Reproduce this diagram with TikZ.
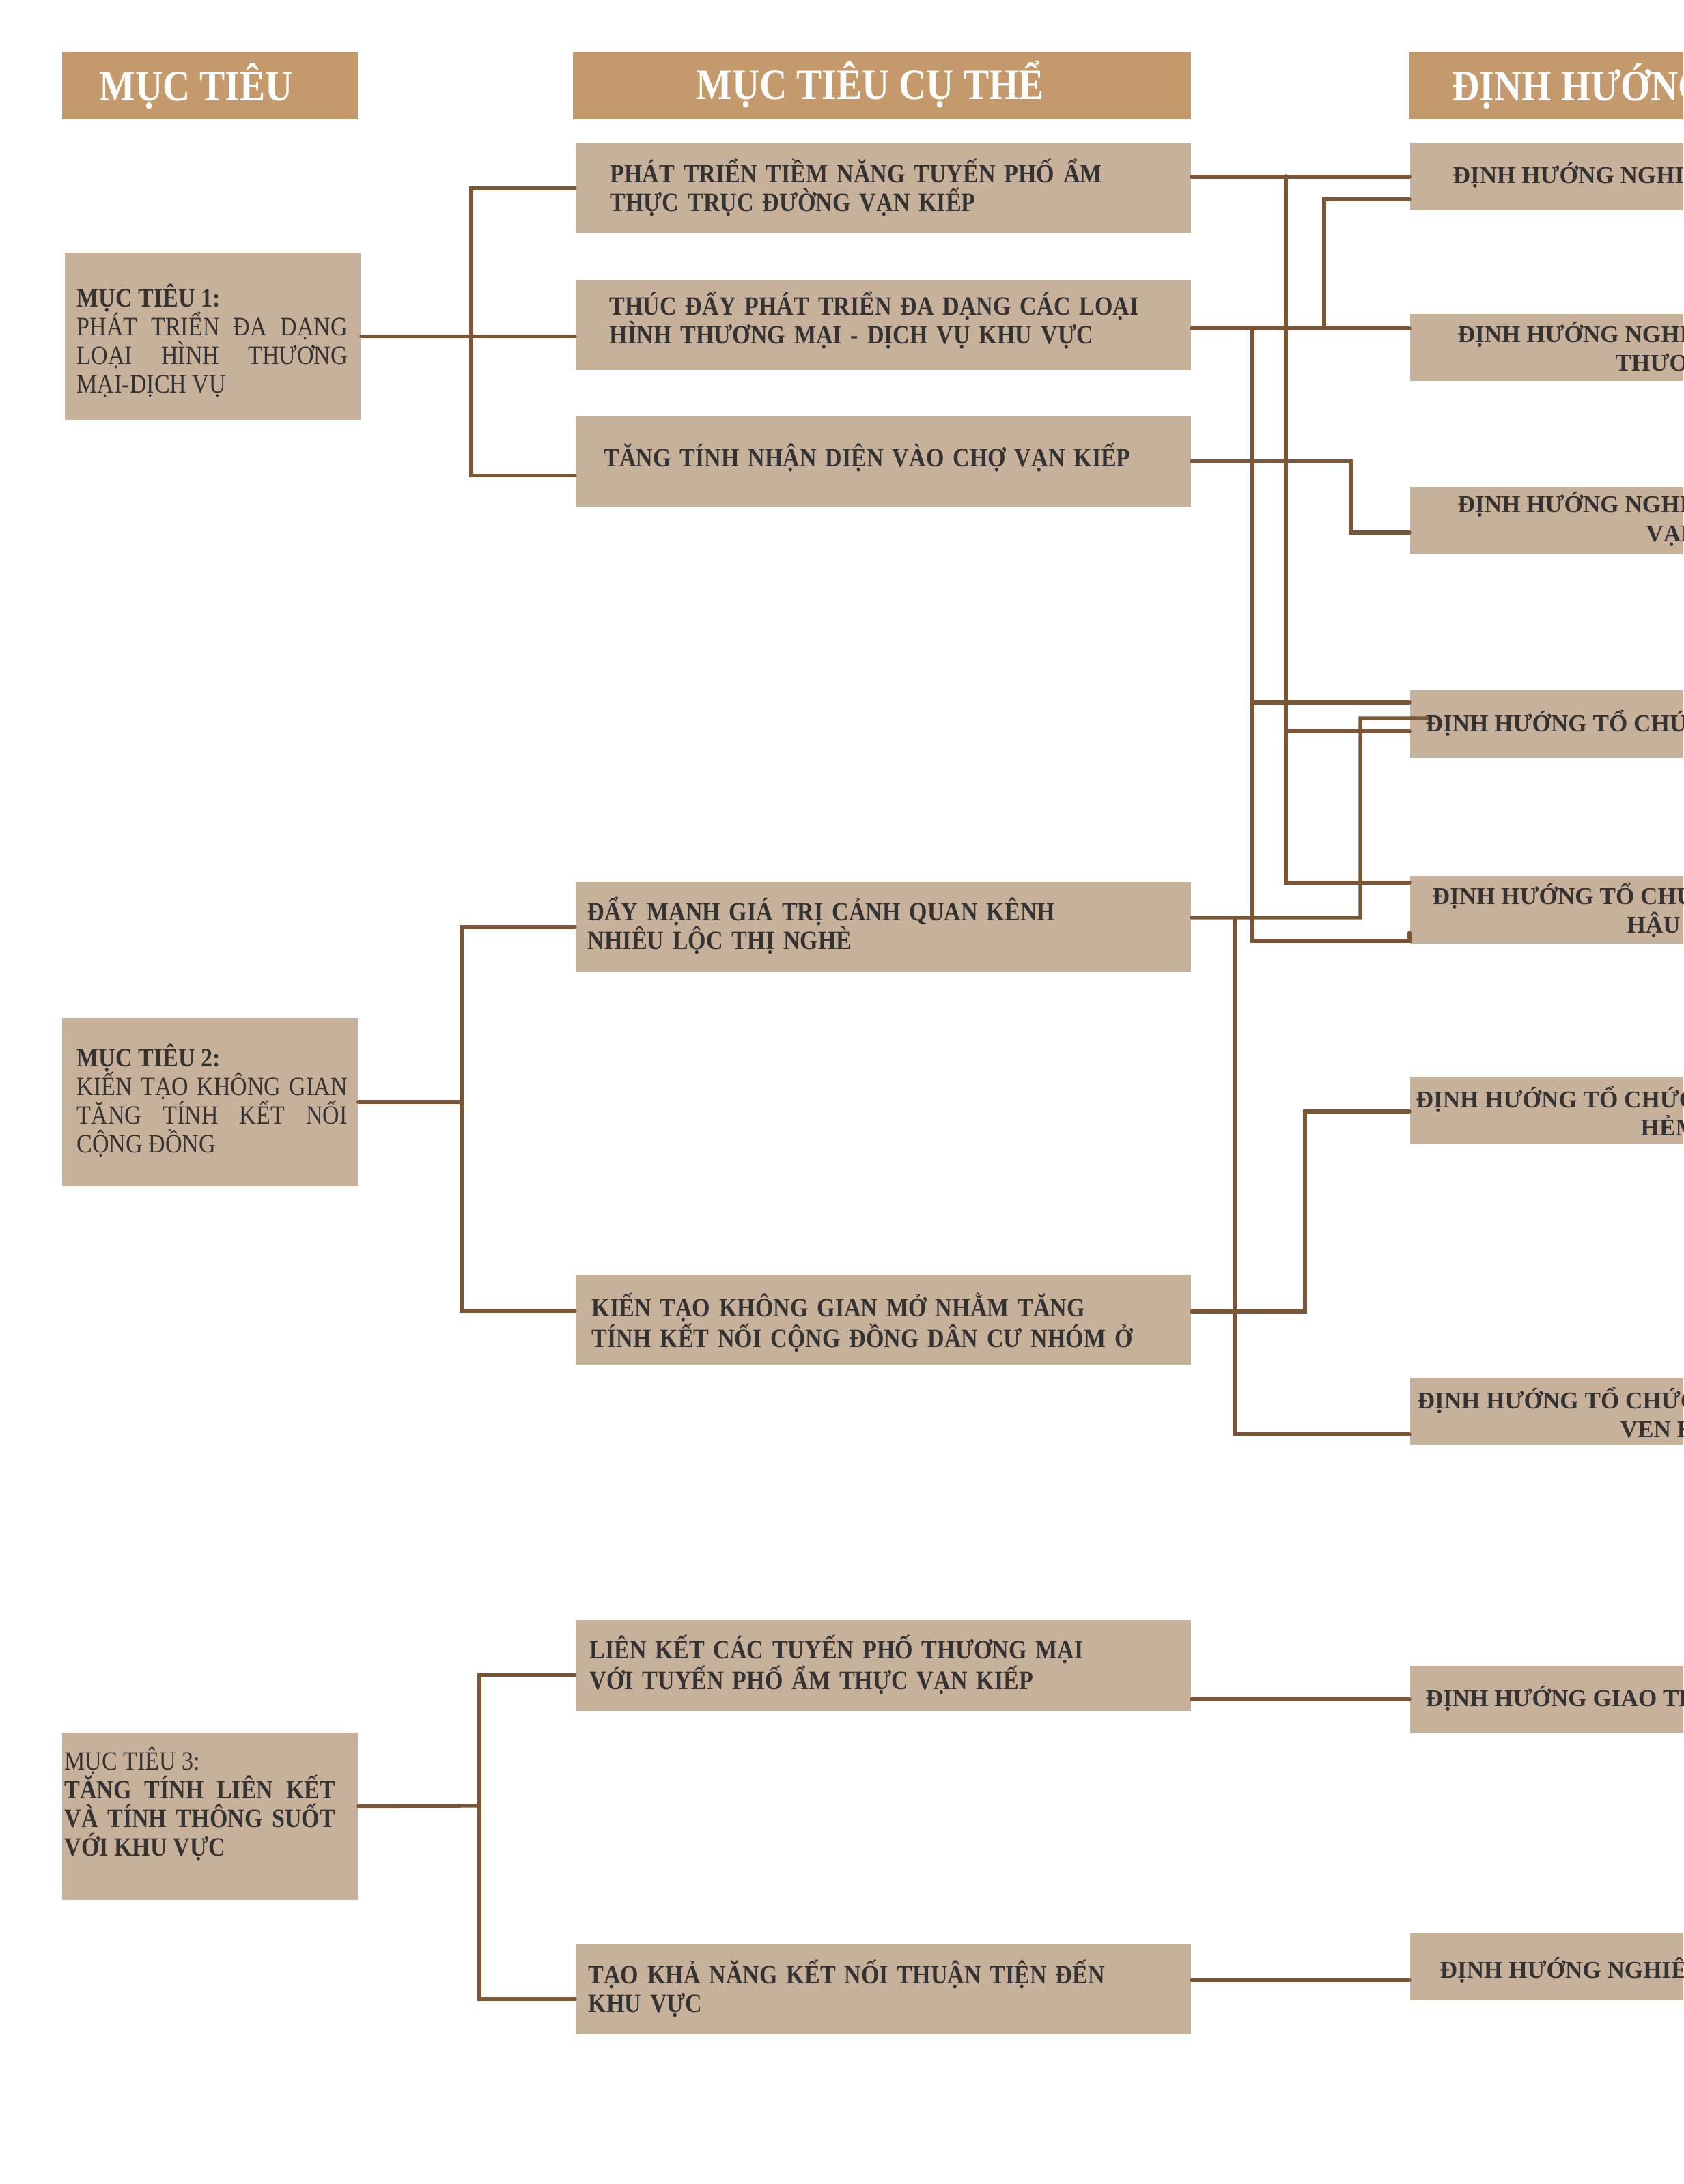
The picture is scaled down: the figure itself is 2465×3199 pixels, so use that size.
\documentclass[tikz,border=0pt]{standalone}
\usepackage{fontspec}
\setmainfont{Liberation Serif}
\newfontfamily\condfont{Liberation Serif}[FakeStretch=0.88]
\usepackage{tikz}
\usetikzlibrary{positioning, calc}
\definecolor{mhead}{HTML}{C49A6C}
\definecolor{mbox}{HTML}{C7B19A}
\definecolor{mline}{HTML}{7B5534}
\definecolor{mtext}{HTML}{333333}
\hyphenpenalty=10000
\exhyphenpenalty=10000
\tikzset{
  headbox/.style={fill=mhead, minimum height=0.99cm, inner sep=0pt},
  goalbox/.style={fill=mbox, minimum width=4.33cm, minimum height=2.45cm, inner sep=0pt},
  aimbox/.style={fill=mbox, minimum width=9.01cm, minimum height=1.32cm, inner sep=0pt},
  dirbox/.style={fill=mbox, minimum width=6.35cm, minimum height=0.98cm, inner sep=0pt},
  headtxt/.style={anchor=base west, inner sep=0pt, text=white,
                  font=\condfont\bfseries\fontsize{18}{20}\selectfont},
  goaltxt/.style={anchor=base west, inner sep=0pt, text=mtext, align=justify, text width=3.96cm,
                  font=\condfont\fontsize{11}{11.95}\selectfont},
  aimtxt/.style={anchor=base west, inner sep=0pt, text=mtext, align=left, text width=8.6cm,
                 font=\condfont\bfseries\fontsize{11}{11.95}\selectfont},
  dirtxt/.style={anchor=base west, inner sep=0pt, text=mtext,
                 font=\bfseries\fontsize{10}{12}\selectfont},
  link/.style={draw=mline, line width=1.5pt, line cap=round},
}

\begin{document}
\begin{tikzpicture}[x=0.01cm, y=-0.01cm]
  \useasboundingbox (0,0) rectangle (2465,3199);
  \fill[white] (0,0) rectangle (2465,3199);
  \clip (0,0) rectangle (2465,3199);

  %% Column headers
  \node[headbox, minimum width=4.33cm] (h1) at (307.5,125.5) {};
  \node[headbox, minimum width=9.05cm] (h2) at (1291.5,125.5) {};
  \node[headbox, minimum width=6.37cm] (h3) at (2381.5,125.5) {};

  %% Goals
  \node[goalbox] (mt1) at (311.5,492.5) {};
  \node[goalbox] (mt2) at (307.5,1614) {};
  \node[goalbox] (mt3) at (307.5,2660.5) {};

  %% Specific aims
  \node[aimbox] (b1) at (1293.5,276) {};
  \node[aimbox] (b2) at (1293.5,476) {};
  \node[aimbox] (b3) at (1293.5,675.5) {};
  \node[aimbox] (b4) at (1293.5,1358) {};
  \node[aimbox] (b5) at (1293.5,1933) {};
  \node[aimbox] (b6) at (1293.5,2439.5) {};
  \node[aimbox] (b7) at (1293.5,2914) {};

  %% Directions (cut at the right edge)
  \node[dirbox] (r1) at (2382.5,259) {};
  \node[dirbox] (r2) at (2382.5,509) {};
  \node[dirbox] (r3) at (2382.5,763) {};
  \node[dirbox] (r4) at (2382.5,1060.5) {};
  \node[dirbox] (r5) at (2382.5,1332.5) {};
  \node[dirbox] (r6) at (2382.5,1627) {};
  \node[dirbox] (r7) at (2382.5,2067) {};
  \node[dirbox] (r8) at (2382.5,2489) {};
  \node[dirbox] (r9) at (2382.5,2881) {};

  %% Goal -> aim links
  \coordinate (j1) at (690,493);
  \coordinate (j2) at (676,1611);
  \coordinate (j3) at (702,2645);
  \draw[link] (mt1.east) -- (mt1.east -| b2.west);
  \draw[link] (b1.west) -| (j1) |- ([yshift=-2.1mm]b3.west);
  \draw[link] (mt2.east) -- (mt2.east -| j2);
  \draw[link] (b4.west) -| (j2) |- ([yshift=1.3mm]b5.west);
  \draw[link] ([yshift=1.5mm]mt3.east) -- (j3);
  \draw[link] ([yshift=-1.4mm]b6.west) -| (j3) |- ([yshift=-1.4mm]b7.west);

  %% Aim -> direction links
  \coordinate (j4) at (1883,258);
  \coordinate (j5) at (1939,481);
  \coordinate (j6) at (1834,481);
  \coordinate (j7) at (1978,780);
  \coordinate (j8) at (1992,1344);
  \coordinate (j9) at (1808,1344);
  \coordinate (j10) at (1911,1628);
  \draw[link] (b1.east |- r1.west) -- (r1.west);
  \draw[link] (j4) |- ([yshift=-1.05mm]r4.west);
  \draw[link] (j4) |- ([yshift=3.95mm]r5.west);
  \draw[link] ([yshift=-0.5mm]b2.east) -- ([yshift=-0.5mm]b2.east -| r2.west);
  \draw[link] (j5) |- ([yshift=-3.3mm]r1.west);
  \draw[link] (j6) |- ([yshift=3.15mm]r4.west);
  \draw[link] (j6) |- ([yshift=-4.55mm]r5.west) -- ++(0,-12);
  \draw[link] (b3.east) -| (j7) -- (j7 -| r3.west);
  \draw[link] ([yshift=1.4mm]b4.east) -- (j8) |- ([xshift=2.5mm,yshift=0.85mm]r4.west);
  \draw[link] (j9) |- ([yshift=-3.4mm]r7.west);
  \draw[link] ([yshift=1.2mm]b5.east) -| (j10) -- (j10 -| r6.west);
  \draw[link] (b6.east |- r8.west) -- (r8.west);
  \draw[link] ([yshift=-1.9mm]b7.east |- r9.west) -- ([yshift=-1.9mm]r9.west);

  %% Header texts
  \node[headtxt] (h1t) at (145,147) {MỤC TIÊU};
  \node[headtxt] (h2t) at (1019,145) {MỤC TIÊU CỤ THỂ};
  \node[headtxt] (h3t) at (2126,147) {ĐỊNH HƯỚNG};

  %% Goal texts
  \node[goaltxt] (mt1t) at (112,449) {\textbf{MỤC TIÊU 1:}\\PHÁT TRIỂN ĐA DẠNG\linebreak LOẠI HÌNH THƯƠNG\linebreak MẠI-DỊCH VỤ};
  \node[goaltxt] (mt2t) at (112,1562) {\textbf{MỤC TIÊU 2:}\\KIẾN TẠO KHÔNG GIAN\linebreak TĂNG TÍNH KẾT NỐI\linebreak CỘNG ĐỒNG};
  \node[goaltxt] (mt3t) at (94,2592) {MỤC TIÊU 3:\\\textbf{TĂNG TÍNH LIÊN KẾT\linebreak VÀ TÍNH THÔNG SUỐT\linebreak VỚI KHU VỰC}};

  %% Aim texts
  \node[aimtxt] (b1t) at (893,267) {PHÁT TRIỂN TIỀM NĂNG TUYẾN PHỐ ẨM\\THỰC TRỤC ĐƯỜNG VẠN KIẾP};
  \node[aimtxt] (b2t) at (892,461) {THÚC ĐẨY PHÁT TRIỂN ĐA DẠNG CÁC LOẠI\\HÌNH THƯƠNG MẠI - DỊCH VỤ KHU VỰC};
  \node[aimtxt] (b3t) at (884,683) {TĂNG TÍNH NHẬN DIỆN VÀO CHỢ VẠN KIẾP};
  \node[aimtxt] (b4t) at (860,1348) {ĐẨY MẠNH GIÁ TRỊ CẢNH QUAN KÊNH\\NHIÊU LỘC THỊ NGHÈ};
  \node[aimtxt] (b5t) at (866,1928) {KIẾN TẠO KHÔNG GIAN MỞ NHẰM TĂNG\\TÍNH KẾT NỐI CỘNG ĐỒNG DÂN CƯ NHÓM Ở};
  \node[aimtxt] (b6t) at (863,2429) {LIÊN KẾT CÁC TUYẾN PHỐ THƯƠNG MẠI\\VỚI TUYẾN PHỐ ẨM THỰC VẠN KIẾP};
  \node[aimtxt] (b7t) at (861,2905) {TẠO KHẢ NĂNG KẾT NỐI THUẬN TIỆN ĐẾN\\KHU VỰC};

  %% Direction texts
  \node[dirtxt] (r1t) at (2127,268) {ĐỊNH HƯỚNG NGHIÊN};
  \node[dirtxt] (r2t) at (2134,501) {ĐỊNH HƯỚNG NGHIÊN};
  \node[dirtxt] (r2u) at (2365,543) {THƯƠNG};
  \node[dirtxt] (r3t) at (2134,750) {ĐỊNH HƯỚNG NGHIÊN};
  \node[dirtxt] (r3u) at (2410,793) {VẠN};
  \node[dirtxt] (r4t) at (2087,1071) {ĐỊNH HƯỚNG TỔ CHỨC};
  \node[dirtxt] (r5t) at (2097,1324) {ĐỊNH HƯỚNG TỔ CHỨC};
  \node[dirtxt] (r5u) at (2382,1366) {HẬU};
  \node[dirtxt] (r6t) at (2073,1622) {ĐỊNH HƯỚNG TỔ CHỨC};
  \node[dirtxt] (r6u) at (2402,1663) {HẺM};
  \node[dirtxt] (r7t) at (2075,2063) {ĐỊNH HƯỚNG TỔ CHỨC};
  \node[dirtxt] (r7u) at (2372,2105) {VEN KÊNH};
  \node[dirtxt] (r8t) at (2087,2499) {ĐỊNH HƯỚNG GIAO THÔNG};
  \node[dirtxt] (r9t) at (2108,2897) {ĐỊNH HƯỚNG NGHIÊN};
\end{tikzpicture}
\end{document}
